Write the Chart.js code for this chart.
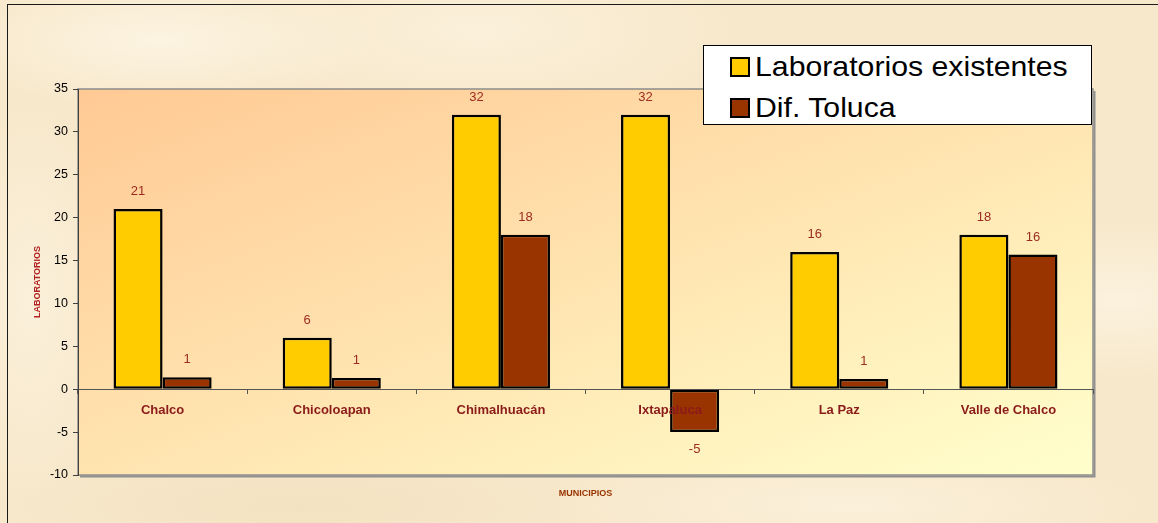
<!DOCTYPE html>
<html lang="es">
<head>
<meta charset="utf-8">
<title>Laboratorios por municipio</title>
<script src="https://cdn.jsdelivr.net/npm/chart.js@4.4.1/dist/chart.umd.min.js"></script>
<style>
  html, body { margin: 0; padding: 0; width: 1158px; height: 523px; overflow: hidden; }
  body {
    position: relative;
    font-family: Arial, "Liberation Sans", sans-serif;
    background-color: #f7e8cb;
    background-image:
      radial-gradient(ellipse 220px 70px at 160px 40px, rgba(253,246,230,0.8), rgba(253,246,230,0)),
      radial-gradient(ellipse 260px 90px at 480px 30px, rgba(252,243,224,0.7), rgba(252,243,224,0)),
      radial-gradient(ellipse 200px 80px at 1120px 300px, rgba(252,244,226,0.8), rgba(252,244,226,0)),
      radial-gradient(ellipse 300px 60px at 300px 505px, rgba(240,222,186,0.6), rgba(240,222,186,0)),
      radial-gradient(ellipse 300px 60px at 850px 505px, rgba(252,243,224,0.7), rgba(252,243,224,0)),
      radial-gradient(ellipse 90px 200px at 30px 300px, rgba(252,243,224,0.7), rgba(252,243,224,0));
  }
  #frame {
    position: absolute; left: 7px; top: 4px; width: 1300px; height: 700px;
    border: 1.5px solid #1a1a1a; box-sizing: border-box;
  }
  canvas { position: absolute; left: 0; top: 0; }
  #legend {
    position: absolute; left: 703px; top: 45px; width: 389px; height: 80px;
    box-sizing: border-box; background: #fff; border: 1px solid #000;
    padding: 0 0 0 26px;
  }
  .item { display: flex; align-items: center; height: 41px; font-size: 28px; color: #000; line-height: 1; }
  .swatch { width: 20px; height: 20px; box-sizing: border-box; border: 2px solid #000; margin-right: 5px; flex: none; }
  .item span.txt { display: inline-block; transform: scaleX(1.08); transform-origin: left center; white-space: nowrap; }
</style>
</head>
<body>
<div id="frame"></div>
<canvas id="chart" width="1158" height="523"></canvas>
<div id="legend"></div>
<script>
const municipios = ["Chalco", "Chicoloapan", "Chimalhuacán", "Ixtapaluca", "La Paz", "Valle de Chalco"];
const laboratorios = [21, 6, 32, 32, 16, 18];
const difToluca = [1.4, 1.3, 18, -5, 1.2, 15.7];
const seriesNames = ["Laboratorios existentes", "Dif. Toluca"];
const seriesColors = ["#ffcc00", "#993300"];
const yMin = -10, yMax = 35, yStep = 5;

const FONT = 'Arial, "Liberation Sans", sans-serif';

// plot area fill + border, drawn before everything else
const plotArea = {
  id: "plotArea",
  beforeDraw(chart) {
    const { ctx, chartArea: a } = chart;
    const w = a.right - a.left, h = a.bottom - a.top;
    const k = 2 * w * h / (w * w + h * h);
    const g = ctx.createLinearGradient(a.left, a.top, a.left + k * h, a.top + k * w);
    g.addColorStop(0, "#ffc994");
    g.addColorStop(1, "#ffffcc");
    ctx.save();
    ctx.fillStyle = g;
    ctx.fillRect(a.left, a.top, w, h);
    ctx.strokeStyle = "#8c8c8c";
    ctx.lineWidth = 1.5;
    ctx.strokeRect(a.left, a.top, w, h);
    ctx.lineWidth = 2;
    ctx.strokeStyle = "#909090";
    ctx.beginPath();
    ctx.moveTo(a.right + 1.5, a.top + 2);
    ctx.lineTo(a.right + 1.5, a.bottom + 1.5);
    ctx.lineTo(a.left + 2, a.bottom + 1.5);
    ctx.stroke();
    ctx.restore();
  }
};

// value labels above / below each bar
const valueLabels = {
  id: "valueLabels",
  afterDatasetsDraw(chart) {
    const { ctx } = chart;
    ctx.save();
    ctx.font = "13px " + FONT;
    ctx.fillStyle = "#9c2b22";
    ctx.textAlign = "center";
    ctx.textBaseline = "middle";
    chart.data.datasets.forEach((ds, i) => {
      chart.getDatasetMeta(i).data.forEach((bar, j) => {
        const v = ds.data[j];
        const y = v >= 0 ? bar.y - 17.5 : bar.y + 17;
        ctx.fillText(String(Math.round(v)), bar.x, y);
      });
    });
    ctx.restore();
  }
};

const chart = new Chart(document.getElementById("chart"), {
  type: "bar",
  data: {
    labels: municipios,
    datasets: [
      { label: seriesNames[0], data: laboratorios, backgroundColor: seriesColors[0] },
      { label: seriesNames[1], data: difToluca, backgroundColor: seriesColors[1] },
    ],
  },
  options: {
    responsive: false,
    devicePixelRatio: 1,
    animation: false,
    layout: { padding: { top: 89, right: 65, left: 0, bottom: 0 } },
    datasets: {
      bar: {
        categoryPercentage: 0.58,
        barPercentage: 1,
        borderColor: "#000",
        borderWidth: 2.5,
        borderSkipped: false,
      },
    },
    plugins: {
      legend: { display: false },
      tooltip: { enabled: false },
      title: {
        display: true,
        position: "bottom",
        fullSize: false,
        text: "MUNICIPIOS",
        color: "#993300",
        font: { family: FONT, size: 9, weight: "bold" },
        padding: { top: 13.6, bottom: 23.6 },
      },
    },
    scales: {
      x: {
        position: { y: 0 },
        afterFit: (s) => { s.height = 0; },
        grid: { display: true, drawOnChartArea: false, tickLength: 4, color: "#555" },
        border: { display: true, color: "#555", width: 1 },
        ticks: {
          z: 1, // category names sit on top of the bars
          padding: 9,
          color: "#8b1a1a",
          font: { family: FONT, size: 13, weight: "bold" },
        },
      },
      y: {
        min: yMin,
        max: yMax,
        afterFit: (s) => { s.width = 78; },
        grid: { drawOnChartArea: false, tickLength: 5, color: "#404040" },
        border: { display: true, color: "#404040", width: 1 },
        ticks: {
          stepSize: yStep,
          padding: 5,
          color: "#000",
          font: { family: FONT, size: 12.5 },
        },
        title: {
          display: true,
          text: "LABORATORIOS",
          color: "#b22222",
          font: { family: FONT, size: 9, weight: "bold" },
          padding: { top: 32 },
        },
      },
    },
  },
  plugins: [plotArea, valueLabels],
});

// legend box in the top right, built from the datasets
document.getElementById("legend").innerHTML = chart.data.datasets
  .map(
    (ds) => `<div class="item"><span class="swatch" style="background:${ds.backgroundColor}"></span><span class="txt">${ds.label}</span></div>`
  )
  .join("");
</script>
</body>
</html>
